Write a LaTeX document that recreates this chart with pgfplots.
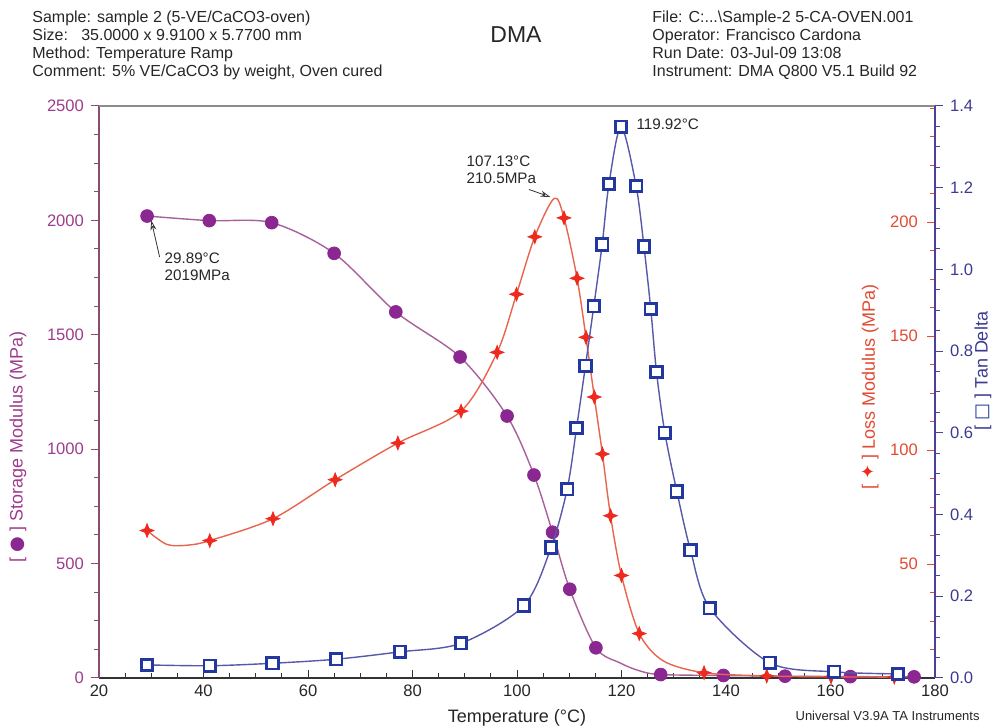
\documentclass[border=0pt]{standalone}
\usepackage{fontspec}
\setmainfont{Liberation Sans}
\newfontfamily\dejavu{DejaVu Sans}
\usepackage{pgfplots}
\pgfplotsset{compat=1.18}
\usetikzlibrary{arrows.meta}

\definecolor{stor}{HTML}{8A2790}
\definecolor{storline}{HTML}{A8609A}
\definecolor{storlab}{HTML}{9E3C8C}
\definecolor{lossmk}{HTML}{EE2A1E}
\definecolor{lossline}{HTML}{E8644E}
\definecolor{losslab}{HTML}{E24A32}
\definecolor{tanmk}{HTML}{2238A0}
\definecolor{tanline}{HTML}{5858AA}
\definecolor{tanlab}{HTML}{3C3A92}
\definecolor{leftax}{HTML}{8A4C70}
\definecolor{rightax}{HTML}{4A40A0}

\pgfdeclareplotmark{fourstar}{%
 \pgfpathmoveto{\pgfqpoint{0pt}{\pgfplotmarksize}}%
 \pgfpathlineto{\pgfqpoint{0.28\pgfplotmarksize}{0.28\pgfplotmarksize}}%
 \pgfpathlineto{\pgfqpoint{\pgfplotmarksize}{0pt}}%
 \pgfpathlineto{\pgfqpoint{0.28\pgfplotmarksize}{-0.28\pgfplotmarksize}}%
 \pgfpathlineto{\pgfqpoint{0pt}{-\pgfplotmarksize}}%
 \pgfpathlineto{\pgfqpoint{-0.28\pgfplotmarksize}{-0.28\pgfplotmarksize}}%
 \pgfpathlineto{\pgfqpoint{-\pgfplotmarksize}{0pt}}%
 \pgfpathlineto{\pgfqpoint{-0.28\pgfplotmarksize}{0.28\pgfplotmarksize}}%
 \pgfpathclose
 \pgfusepathqfillstroke}

\pgfplotstableread{
T S
29.2 2019
41.1 1999
53.05 1990
65.0 1856
76.8 1600
89.1 1403
98.1 1145
103.25 887
106.8 637
110.1 388
115.1 132
127.5 15
139.5 11
151.3 8
163.8 6
176.0 5
}\stormarks
\pgfplotstableread{
T S
29.2 2019
41.1 1999
53.05 1990
65.0 1856
76.8 1600
89.1 1403
98.1 1145
103.25 887
106.8 637
110.1 388
115.1 132
119.7 66
123.5 31
127.5 15
139.5 11
151.3 8
163.8 6
176.0 5
}\storline
\pgfplotstableread{
T L
29.2 64.7
41.2 60.3
53.3 69.9
65.2 87.0
77.2 103.1
89.3 117.1
96.2 142.9
99.9 168.4
103.4 193.6
109.0 201.9
111.5 175.4
113.2 149.5
114.8 123.3
116.35 98.3
117.9 71.2
120.0 45.0
123.4 19.5
135.8 2.3
147.8 0.9
160.1 0.5
172.2 0.4
}\lossmarks
\pgfplotstableread{
T L
29.2 64.7
33.0 58.6
37.0 58.3
41.2 60.3
53.3 69.9
65.2 87.0
77.2 103.1
89.3 117.1
96.2 142.9
99.9 168.4
103.4 193.6
107.13 210.5
109.0 201.9
111.5 175.4
113.2 149.5
114.8 123.3
116.35 98.3
117.9 71.2
120.0 45.0
123.4 19.5
128.0 7.5
135.8 2.3
147.8 0.9
160.1 0.5
172.2 0.4
}\lossline
\pgfplotstableread{
T D
29.2 0.032
41.2 0.030
53.2 0.036
65.4 0.046
77.6 0.064
89.3 0.085
101.3 0.177
106.5 0.319
109.6 0.462
111.4 0.612
113.1 0.764
114.7 0.910
116.3 1.061
117.6 1.209
119.92 1.349
122.8 1.204
124.3 1.056
125.6 0.903
126.7 0.749
128.3 0.600
130.6 0.456
133.2 0.313
136.9 0.171
148.4 0.037
160.7 0.015
172.9 0.010
}\tanmarks

\pgfplotsset{
  myax/.style={at={(49.5pt,24.5pt)}, anchor=south west,
    width=418pt, height=286pt, scale only axis,
    xmin=20, xmax=180, clip=false,
    major tick length=4pt, minor tick length=2.4pt,
    /pgf/number format/assume math mode=true,
    /pgf/number format/1000 sep={},
    tick label style={font=\fontsize{8.3}{10}\selectfont}},
}

\begin{document}
\begin{tikzpicture}
\path[use as bounding box] (0pt,0pt) rectangle (498pt,363.5pt);

% header
\begin{scope}[every node/.style={font=\fontsize{8}{9}\selectfont, text=black!85, anchor=base west, inner sep=0pt}]
\node at (16pt,352pt) {Sample: sample 2 (5-VE/CaCO3-oven)};
\node at (16pt,343pt) {Size:\ \ \ 35.0000 x 9.9100 x 5.7700 mm};
\node at (16pt,334pt) {Method: Temperature Ramp};
\node at (16pt,325pt) {Comment: 5\% VE/CaCO3 by weight, Oven cured};
\node at (326pt,352pt) {File: C:...\textbackslash Sample-2 5-CA-OVEN.001};
\node at (326pt,343pt) {Operator: Francisco Cardona};
\node at (326pt,334pt) {Run Date: 03-Jul-09 13:08};
\node at (326pt,325pt) {Instrument: DMA Q800 V5.1 Build 92};
\end{scope}
\node[font=\fontsize{11.5}{12}\selectfont, text=black!85, anchor=base, inner sep=0pt] at (258pt,342pt) {DMA};

% storage axis
\begin{axis}[myax, ymin=0, ymax=2500,
  axis x line*=bottom, axis y line*=left,
  xtick={20,40,...,180}, ytick={0,500,...,2500},
  minor x tick num=3, minor y tick num=3,
  xtick align=inside, ytick align=outside,
  x axis line style={draw=black!80, line width=0.7pt, -},
  y axis line style={draw=leftax, line width=0.6pt, -},
  xtick style={draw=black!80, line width=0.5pt},
  ytick style={draw=leftax, line width=0.5pt},
  xticklabel style={text=black!85},
  yticklabel style={text=storlab},
]
\draw[black!45, line width=0.8pt] (rel axis cs:0,1) -- (rel axis cs:1,1);
\addplot[storline, line width=0.7pt, smooth, no marks] table[x=T,y=S] {\storline};
\addplot[only marks, mark=*, mark size=3.2pt, stor] table[x=T,y=S] {\stormarks};
% annotations
\draw[black!80, line width=0.4pt, -{Stealth[length=5pt,width=3pt,open]}] (axis cs:31.6,1840) -- (axis cs:30.0,2000);
\node[anchor=north west, align=left, font=\fontsize{7.6}{8.6}\selectfont, text=black!85, inner sep=0pt] at (axis cs:32.5,1860) {29.89°C\\2019MPa};
\draw[black!80, line width=0.4pt, -{Stealth[length=5pt,width=3pt,open]}] (axis cs:102.3,2135) -- (axis cs:106.4,2102);
\node[anchor=north west, align=left, font=\fontsize{7.6}{8.6}\selectfont, text=black!85, inner sep=0pt] at (axis cs:90.3,2285) {107.13°C\\210.5MPa};
\node[anchor=west, font=\fontsize{7.6}{8.6}\selectfont, text=black!85, inner sep=0pt] at (axis cs:122.8,2420) {119.92°C};
\end{axis}

% loss axis
\begin{axis}[myax, ymin=0, ymax=251,
  axis x line=none, axis y line*=right,
  ytick={50,100,150,200},
  minor ytick={12.5,25,37.5,62.5,75,87.5,112.5,125,137.5,162.5,175,187.5,212.5,225,237.5,250},
  ytick align=inside,
  y axis line style={draw=rightax, line width=0.7pt, -},
  ytick style={draw=losslab, line width=0.5pt},
  yticklabel style={text=losslab, anchor=east, xshift=-5pt},
]
\addplot[lossline, line width=0.7pt, smooth, no marks] table[x=T,y=L] {\lossline};
\addplot[only marks, mark=fourstar, mark size=3.4pt, lossmk] table[x=T,y=L] {\lossmarks};
\end{axis}

% tan delta axis
\begin{axis}[myax, ymin=0, ymax=1.4,
  axis x line=none, axis y line*=right,
  ytick={0,0.2,0.4,0.6,0.8,1.0,1.2,1.4},
  minor y tick num=3,
  ytick align=outside,
  y axis line style={draw=rightax, line width=0.7pt, -},
  ytick style={draw=rightax, line width=0.5pt},
  yticklabel style={text=tanlab, /pgf/number format/fixed, /pgf/number format/fixed zerofill, /pgf/number format/precision=1},
]
\addplot[tanline, line width=0.7pt, smooth, no marks] table[x=T,y=D] {\tanmarks};
\addplot[only marks, mark=square*, mark size=2.9pt, mark options={fill=white, draw=tanmk, line width=1.4pt}] table[x=T,y=D] {\tanmarks};
\end{axis}

% axis labels
\node[rotate=90, font=\fontsize{9}{10}\selectfont, text=storlab] at (9pt,140pt) {[ {\dejavu\textcolor{stor}{●}} ] Storage Modulus (MPa)};
\node[rotate=90, font=\fontsize{9}{10}\selectfont, text=losslab] at (435pt,170pt) {[ {\dejavu\textcolor{lossmk}{✦}} ] Loss Modulus (MPa)};
\node[rotate=90, font=\fontsize{9}{10}\selectfont, text=tanlab] at (491.5pt,178pt) {[ {\dejavu\textcolor{tanmk}{□}} ] Tan Delta};
\node[font=\fontsize{9}{10}\selectfont, text=black!85, inner sep=0pt] at (258.5pt,4.5pt) {Temperature (°C)};
\node[font=\fontsize{6.5}{7}\selectfont, text=black!85, anchor=east, inner sep=0pt] at (490pt,5.5pt) {Universal V3.9A TA Instruments};
\end{tikzpicture}
\end{document}
